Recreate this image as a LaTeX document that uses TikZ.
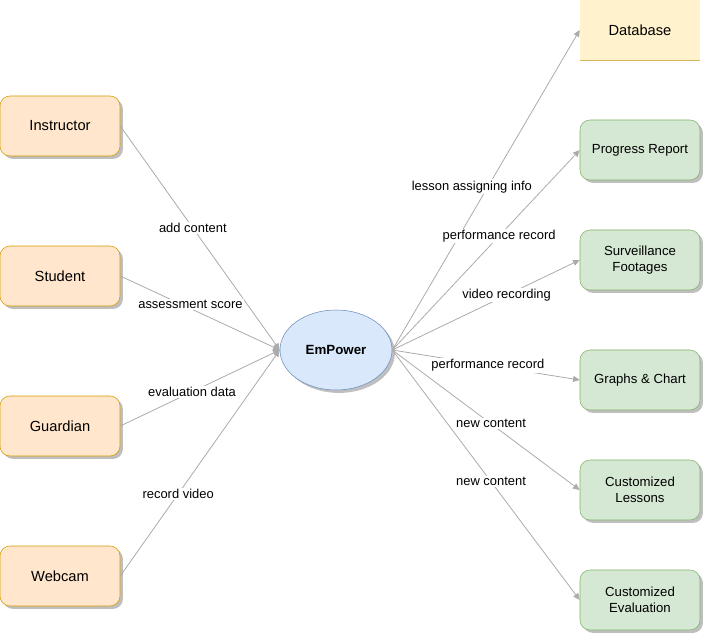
\documentclass[tikz,border=0pt]{standalone}
\usepackage{fontspec}
\setmainfont{Liberation Sans}
\usetikzlibrary{arrows.meta,shadows,shapes.geometric}
\definecolor{orfill}{HTML}{FFE6CC}
\definecolor{ordraw}{HTML}{D79B00}
\definecolor{grfill}{HTML}{D5E8D4}
\definecolor{grdraw}{HTML}{82B366}
\definecolor{blfill}{HTML}{DAE8FC}
\definecolor{bldraw}{HTML}{6C8EBF}
\definecolor{ylfill}{HTML}{FFF2CC}
\definecolor{yldraw}{HTML}{D6B656}
\definecolor{edgecol}{HTML}{ABABAB}
\tikzset{
  px/.style={x=0.75pt,y=-0.75pt},
  shad/.style={drop shadow={shadow xshift=2.2pt,shadow yshift=-2.2pt,fill=black,opacity=0.25}},
  srcbox/.style={shad,draw=ordraw,fill=orfill,rounded corners=7.5pt,minimum width=90pt,minimum height=45pt,font=\fontsize{11pt}{13pt}\selectfont,align=center,inner sep=0pt},
  outbox/.style={shad,draw=grdraw,fill=grfill,rounded corners=7.5pt,minimum width=90pt,minimum height=45pt,font=\fontsize{9.9pt}{12.3pt}\selectfont,align=center,inner sep=0pt},
  hub/.style={shad,ellipse,draw=bldraw,fill=blfill,minimum width=84pt,minimum height=60pt,font=\bfseries\fontsize{10pt}{12pt}\selectfont,inner sep=0pt},
  flow/.style={draw=edgecol,line width=0.6pt,-{Triangle[length=5pt,width=4.5pt,fill=edgecol]}},
  lbl/.style={fill=white,inner sep=1pt,font=\fontsize{9.7pt}{11pt}\selectfont,text=black}
}
\begin{document}
\begin{tikzpicture}[px]
\useasboundingbox (0,0) rectangle (703,634);
% source boxes
\node[srcbox] (instr) at (60,126) {Instructor};
\node[srcbox] (stud) at (60,276) {Student};
\node[srcbox] (guard) at (60,426) {Guardian};
\node[srcbox] (cam) at (60,576) {Webcam};
% hub
\node[hub] (emp) at (336,350) {EmPower};
% database
\node[fill=ylfill,minimum width=90pt,minimum height=45pt,inner sep=0pt,font=\fontsize{11pt}{13pt}\selectfont] (db) at (640,30) {Database};
\draw[yldraw,line width=0.8pt] (db.north west) -- (db.north east);
\draw[yldraw,line width=0.8pt] (db.south west) -- (db.south east);
% outputs
\node[outbox] (prog) at (640,150) {Progress Report};
\node[outbox] (surv) at (640,260) {Surveillance\\Footages};
\node[outbox] (graph) at (640,380) {Graphs \& Chart};
\node[outbox] (less) at (640,490) {Customized\\Lessons};
\node[outbox] (eval) at (640,600) {Customized\\Evaluation};
% incoming edges
\draw[flow] (instr.east) -- node[lbl,pos=0.455] {add content} (emp.west);
\draw[flow] (stud.east) -- node[lbl,pos=0.44,yshift=3pt] {assessment score} (emp.west);
\draw[flow] (guard.east) -- node[lbl,pos=0.45] {evaluation data} (emp.west);
\draw[flow] (cam.east) -- node[lbl,pos=0.363] {record video} (emp.west);
% outgoing edges
\draw[flow] (emp.east) -- node[lbl,pos=0.51,xshift=-12pt] {lesson assigning info} (db.west);
\draw[flow] (emp.east) -- node[lbl,pos=0.57] {performance record} (prog.west);
\draw[flow] (emp.east) -- node[lbl,pos=0.61] {video recording} (surv.west);
\draw[flow] (emp.east) -- node[lbl,pos=0.51] {performance record} (graph.west);
\draw[flow] (emp.east) -- node[lbl,pos=0.527] {new content} (less.west);
\draw[flow] (emp.east) -- node[lbl,pos=0.527] {new content} (eval.west);
\end{tikzpicture}
\end{document}
